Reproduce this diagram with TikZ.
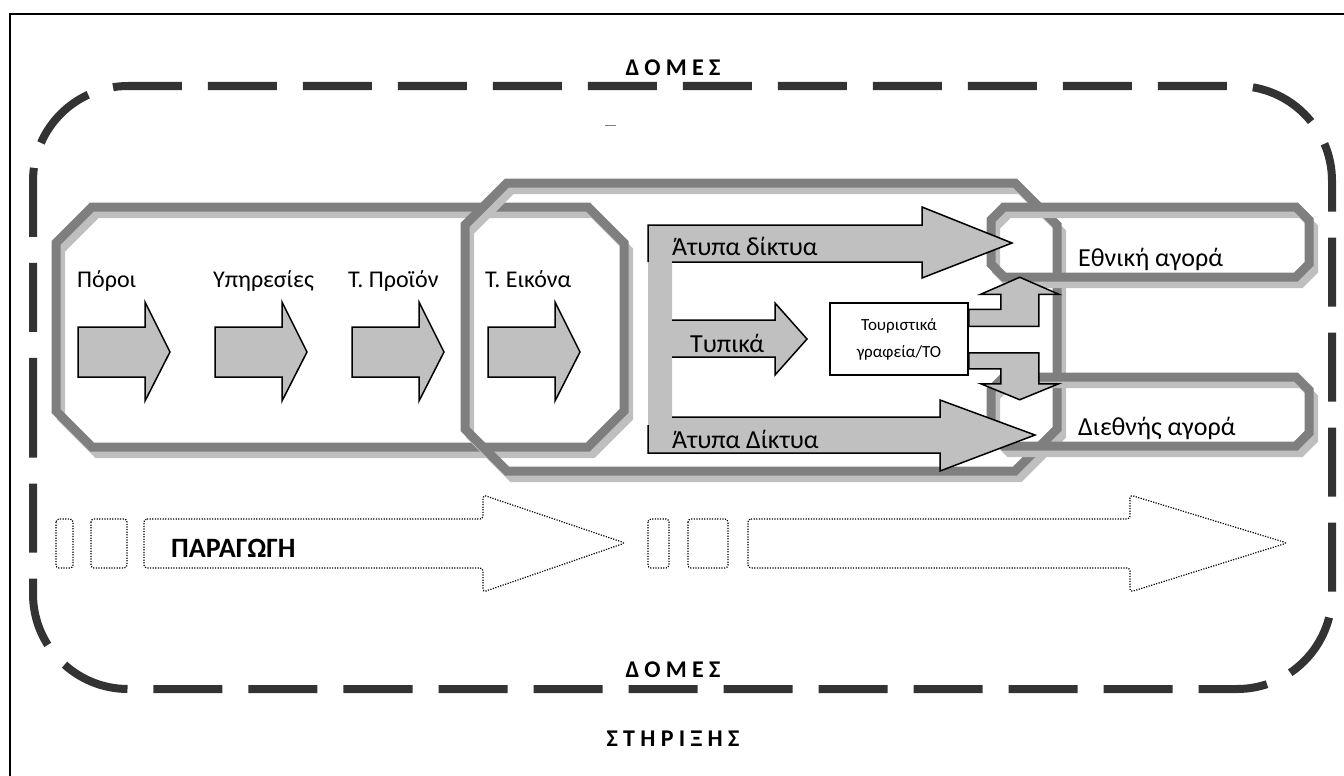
\documentclass[tikz,border=0pt]{standalone}
\usepackage{fontspec}
\setmainfont{Carlito}
\newfontfamily\headfont{Carlito}[LetterSpace=22]
\usetikzlibrary{calc}
\definecolor{dashgray}{HTML}{333333}
\definecolor{octdark}{HTML}{7F7F7F}
\definecolor{octlight}{HTML}{BFBFBF}
\definecolor{arrgray}{HTML}{C0C0C0}
% chamfered frame with its light shadow: x1, y1, x2, y2, chamfer
\newcommand{\octbox}[5]{%
  \draw[octshade] (#1+#5,#2) -- (#3-#5,#2) -- (#3,#2+#5) -- (#3,#4-#5) -- (#3-#5,#4) -- (#1+#5,#4) -- (#1,#4-#5) -- (#1,#2+#5) -- cycle;
  \draw[octline] (#1+#5,#2) -- (#3-#5,#2) -- (#3,#2+#5) -- (#3,#4-#5) -- (#3-#5,#4) -- (#1+#5,#4) -- (#1,#4-#5) -- (#1,#2+#5) -- cycle;
}

\begin{document}
\begin{tikzpicture}[x=1pt, y=-1pt,
  domes/.style={draw=dashgray, line width=8pt, dash pattern=on 69pt off 26pt, dash phase=26.8pt, rounded corners=95pt},
  octline/.style={draw=octdark, line width=9pt, line join=miter},
  octshade/.style={draw=octlight, line width=8pt, line join=miter, shift={(5,7)}},
  blockarrow/.style={fill=arrgray, draw=black, line width=1.5pt, line join=miter},
  dotbox/.style={draw=black, line width=1.2pt, dash pattern=on 1.2pt off 1.4pt, rounded corners=3pt},
  lbl/.style={font=\fontsize{24}{28}\selectfont, anchor=base west, inner sep=0pt},
  netlbl/.style={font=\fontsize{26}{30}\selectfont, anchor=base west, inner sep=0pt},
  heading/.style={font=\headfont\bfseries\fontsize{24}{28}\selectfont, anchor=base, inner sep=0pt}
]
  \useasboundingbox (0,0) rectangle (1344,776);

  % Page frame
  \draw[line width=1.5pt] (1344,14) -- (10,14) -- (10,776);

  % Support structures
  \draw[domes] (33,400) -- (33,86) -- (1332,86) -- (1332,689) -- (33,689) -- (33,400);
  \node[heading] (domestop) at (673,76) {ΔΟΜΕΣ};
  \node[heading] (domesbot) at (673,677) {ΔΟΜΕΣ};
  \node[heading] (stirixis) at (673,746) {ΣΤΗΡΙΞΗΣ};
  \draw[gray, line width=0.8pt] (605,125) -- (616,125);

  % Chamfered frames
  \octbox{56}{207}{624}{447}{36}
  \octbox{465}{183}{1057}{471}{42}
  \octbox{991}{207}{1309}{277}{13}
  \octbox{991}{377}{1309}{446}{13}

  % Supply chain
  \foreach \ax in {78,215,352,488}
    \draw[blockarrow] (\ax,327) -- (\ax+67,327) -- (\ax+67,302) -- (\ax+92,352)
      -- (\ax+67,401) -- (\ax+67,377) -- (\ax,377) -- cycle;
  \node[lbl] (poroi) at (77,287) {Πόροι};
  \node[lbl] (ypiresies) at (213,287) {Υπηρεσίες};
  \node[lbl] (proion) at (348,287) {Τ. Προϊόν};
  \node[lbl] (eikona) at (485,287) {Τ. Εικόνα};

  % Distribution channels
  \fill[arrgray] (648,225) -- (922,225) -- (922,207) -- (1012,243) -- (922,278) -- (922,262)
    -- (672,262) -- (672,417) -- (940,417) -- (940,400) -- (1035,435) -- (940,471)
    -- (940,453) -- (648,453) -- cycle;
  \draw[blockarrow, fill=none] (648,262) -- (648,225) -- (922,225) -- (922,207) -- (1012,243)
    -- (922,278) -- (922,262) -- (672,262);
  \draw[blockarrow, fill=none] (648,425) -- (648,453) -- (940,453) -- (940,471) -- (1035,435)
    -- (940,400) -- (940,417) -- (672,417);
  \filldraw[blockarrow] (672,320) -- (775,320) -- (775,303) -- (807,339) -- (775,375)
    -- (775,357) -- (672,357);
  \node[netlbl] (atypa1) at (672,255) {Άτυπα δίκτυα};
  \node[netlbl] (atypa2) at (672,448) {Άτυπα Δίκτυα};
  \node[netlbl] (typika) at (690,352) {Τυπικά};

  \node[draw, fill=white, line width=1.5pt, minimum width=138pt, minimum height=72pt,
    align=center, font=\fontsize{17}{27}\selectfont] (agencies) at (899,339)
    {Τουριστικά\\γραφεία/ΤΟ};
  \draw[blockarrow] (agencies.north east) ++(0,7) -- ++(32,0) -- ++(0,-15) -- ++(-20,0)
    -- ++(39,-17) -- ++(39,17) -- ++(-20,0) -- ++(0,32) -- ++(-70,0) -- cycle;
  \draw[blockarrow] (agencies.south east) ++(0,-23) -- ++(70,0) -- ++(0,31) -- ++(20,0)
    -- ++(-39,16) -- ++(-39,-16) -- ++(20,0) -- ++(0,-15) -- ++(-32,0) -- cycle;

  % Markets
  \node[netlbl] (ethniki) at (1078,266) {Εθνική αγορά};
  \node[netlbl] (diethnis) at (1078,435) {Διεθνής αγορά};

  % Production
  \draw[dotbox] (56,519) rectangle (73,568);
  \draw[dotbox] (91,519) rectangle (127,568);
  \draw[dotbox] (144,519) -- (483,519) -- (483,495) -- (625,543) -- (483,592) -- (483,568)
    -- (144,568) -- cycle;
  \draw[dotbox] (648,519) rectangle (669,568);
  \draw[dotbox] (688,519) rectangle (728,568);
  \draw[dotbox] (748,519) -- (1130,519) -- (1130,495) -- (1287,543) -- (1130,592) -- (1130,568)
    -- (748,568) -- cycle;
  \node[lbl, font=\bfseries\fontsize{28}{32}\selectfont] (paragogi) at (171,557) {ΠΑΡΑΓΩΓΗ};
\end{tikzpicture}
\end{document}
